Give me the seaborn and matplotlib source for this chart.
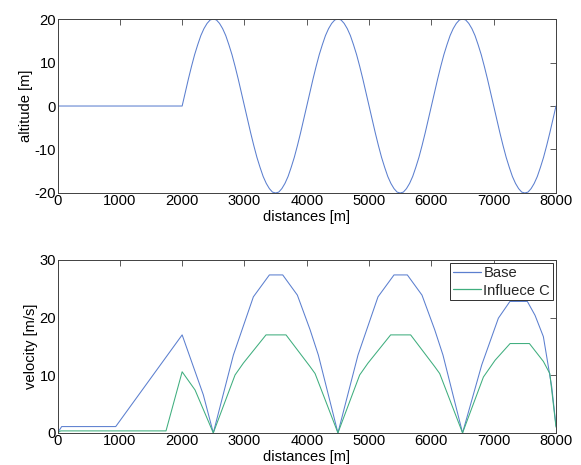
import matplotlib
matplotlib.use("Agg")
import matplotlib.pyplot as plt
from matplotlib.lines import Line2D
import seaborn as sns
import pandas as pd

# ---- data ----
# flat section then samples every 50 m from 2000 m to 8000 m
alt_x = [0, 1000] + list(range(2000, 8001, 50))
alt_y = [0, 0,
         0, 3.1, 6.2, 9.1, 11.8, 14.1, 16.2, 17.8, 19.0, 19.8,
         20, 19.8, 19.0, 17.8, 16.2, 14.1, 11.8, 9.1, 6.2, 3.1,
         0, -3.1, -6.2, -9.1, -11.8, -14.1, -16.2, -17.8, -19.0, -19.8,
         -20, -19.8, -19.0, -17.8, -16.2, -14.1, -11.8, -9.1, -6.2, -3.1,
         0, 3.1, 6.2, 9.1, 11.8, 14.1, 16.2, 17.8, 19.0, 19.8,
         20, 19.8, 19.0, 17.8, 16.2, 14.1, 11.8, 9.1, 6.2, 3.1,
         0, -3.1, -6.2, -9.1, -11.8, -14.1, -16.2, -17.8, -19.0, -19.8,
         -20, -19.8, -19.0, -17.8, -16.2, -14.1, -11.8, -9.1, -6.2, -3.1,
         0, 3.1, 6.2, 9.1, 11.8, 14.1, 16.2, 17.8, 19.0, 19.8,
         20, 19.8, 19.0, 17.8, 16.2, 14.1, 11.8, 9.1, 6.2, 3.1,
         0, -3.1, -6.2, -9.1, -11.8, -14.1, -16.2, -17.8, -19.0, -19.8,
         -20, -19.8, -19.0, -17.8, -16.2, -14.1, -11.8, -9.1, -6.2, -3.1,
         0]

base_x = [0, 67, 934, 2000, 2340, 2500, 2822, 3143, 3400, 3614, 3849, 4053, 4186, 4500,
          4822, 5143, 5400, 5614, 5849, 6053, 6186, 6500, 6808, 7075, 7260, 7540,
          7663, 7797, 7931, 8000]
base_v = [0, 1.1, 1.1, 17.0, 6.6, 0, 13.5, 23.6, 27.4, 27.4, 23.9, 17.9, 13.5, 0,
          13.5, 23.6, 27.4, 27.4, 23.9, 17.9, 13.5, 0, 11.8, 19.9, 22.8, 22.8,
          20.4, 16.7, 8.0, 1.2]

infl_x = [0, 50, 1741, 2000, 2207, 2500, 2849, 2982, 3346, 3667, 4053, 4133, 4500,
          4849, 4982, 5346, 5667, 6053, 6133, 6500, 6835, 7022, 7263, 7573, 7797,
          7900, 8000]
infl_v = [0, 0.35, 0.35, 10.6, 7.45, 0, 10.05, 12.1, 17, 17, 11.5, 10.3, 0,
          10.05, 12.1, 17, 17, 11.5, 10.3, 0, 9.7, 12.6, 15.5, 15.5, 12.4,
          10.3, 1.0]

series_names = ['Base', 'Influece C']
x_ticks = [0, 1000, 2000, 3000, 4000, 5000, 6000, 7000, 8000]
alt_ticks = [-20, -10, 0, 10, 20]
vel_ticks = [0, 10, 20, 30]

sns.set_theme(style="white")
plt.rcParams['font.family'] = ['Liberation Sans', 'DejaVu Sans']

FS = 10.6
BLUE = '#5b7fcf'
GREEN = '#3fae7e'
SPINE = '#404040'

fig = plt.figure(figsize=(5.81, 4.65), dpi=100)
fig.patch.set_facecolor('white')
ax1 = fig.add_axes([0.099, 0.585, 0.858, 0.374])
ax2 = fig.add_axes([0.099, 0.069, 0.858, 0.372])

df_alt = pd.DataFrame({'x': alt_x, 'y': alt_y})
sns.lineplot(data=df_alt, x='x', y='y', ax=ax1, color=BLUE, linewidth=0.75, sort=False)

df_b = pd.DataFrame({'x': base_x, 'v': base_v, 's': series_names[0]})
df_i = pd.DataFrame({'x': infl_x, 'v': infl_v, 's': series_names[1]})
df_v = pd.concat([df_b, df_i], ignore_index=True)
sns.lineplot(data=df_v, x='x', y='v', hue='s', ax=ax2,
             palette={series_names[0]: BLUE, series_names[1]: GREEN},
             linewidth=0.75, sort=False, legend=False)

for ax, yt, ylab, ylim in [(ax1, alt_ticks, 'altitude [m]', (-20, 20)),
                           (ax2, vel_ticks, 'velocity [m/s]', (0, 30))]:
    ax.set_xlim(0, 8000)
    ax.set_ylim(*ylim)
    ax.set_xticks(x_ticks)
    ax.set_yticks(yt)
    ax.set_xticklabels([str(t) for t in x_ticks])
    ax.set_yticklabels([str(t) for t in yt])
    ax.set_xlabel('distances [m]', fontsize=FS, labelpad=1, color='black')
    ax.set_ylabel(ylab, fontsize=FS, labelpad=1, color='black')
    ax.tick_params(direction='in', length=4, width=0.6, colors=SPINE,
                   labelcolor='black', top=True, right=True, pad=1.0,
                   labelsize=FS)
    for sp in ax.spines.values():
        sp.set_color(SPINE)
        sp.set_linewidth(0.7)
        sp.set_visible(True)

handles = [Line2D([], [], color=BLUE, linewidth=0.9),
           Line2D([], [], color=GREEN, linewidth=0.9)]
leg = ax2.legend(handles, series_names, loc='upper right', frameon=True,
                 fancybox=False, framealpha=1, edgecolor='#303030', fontsize=FS,
                 borderpad=0.2, handlelength=1.9, handletextpad=0.15,
                 labelspacing=0.25, borderaxespad=0.2)
leg.get_frame().set_linewidth(0.7)

fig.savefig('out.png', dpi=100, facecolor='white')
